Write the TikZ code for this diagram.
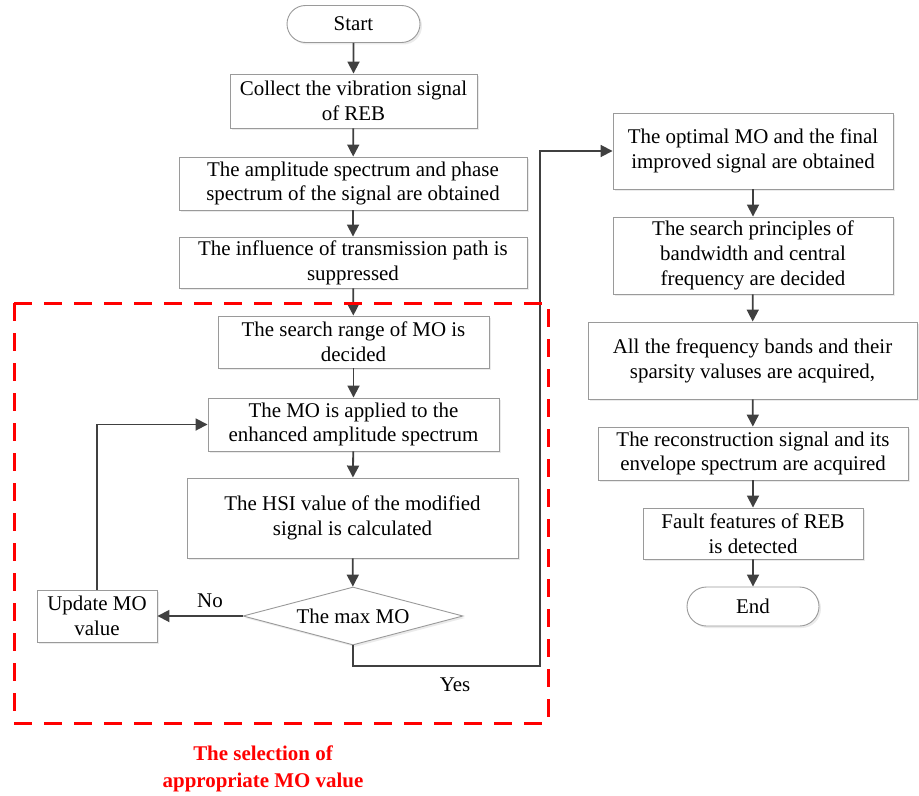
\documentclass[tikz,border=0pt]{standalone}
\usepackage{fontspec}
\setmainfont{Liberation Serif}
\usetikzlibrary{arrows.meta,shapes.misc,shapes.geometric,shadows}
\definecolor{arrgray}{HTML}{404040}
\definecolor{boxgray}{HTML}{9A9A9A}
\tikzset{
  procbox/.style={draw=boxgray, line width=0.9bp, fill=white, inner sep=0pt, align=center,
    font=\fontsize{21}{25}\selectfont,
    drop shadow={shadow xshift=2bp, shadow yshift=-2bp, fill=black!8, opacity=1}},
  termbox/.style={procbox, rounded rectangle},
  decbox/.style={procbox, diamond, aspect=3.8},
  arr/.style={draw=arrgray, line width=1.8bp, -{Triangle[length=12bp,width=12bp]}},
  lbl/.style={font=\fontsize{21}{25}\selectfont, inner sep=0pt},
  redframe/.style={draw=red, line width=3bp, dash pattern=on 18bp off 12bp}
}
\begin{document}
\begin{tikzpicture}[x=1bp,y=-1bp]
\useasboundingbox (0,0) rectangle (919,796);
% left column
\node[termbox, minimum width=133bp, minimum height=37bp] (start) at (353.5,24) {Start};
\node[procbox, minimum width=247bp, minimum height=54bp] (collect) at (353.5,101) {Collect the vibration signal\\of REB};
\node[procbox, minimum width=348bp, minimum height=53bp] (amp) at (353,183.5) {The amplitude spectrum and phase\\spectrum of the signal are obtained};
\node[procbox, minimum width=348bp, minimum height=51bp] (infl) at (353,262.5) {The influence of transmission path is\\suppressed};
\node[procbox, minimum width=271bp, minimum height=52bp] (range) at (353.5,342) {The search range of MO is\\decided};
\node[procbox, minimum width=291bp, minimum height=53bp] (apply) at (353.5,424.5) {The MO is applied to the\\enhanced amplitude spectrum};
\node[procbox, minimum width=331bp, minimum height=80bp] (hsi) at (352.5,518) {The HSI value of the modified\\signal is calculated};
\node[decbox, minimum width=220bp, minimum height=58bp] (maxmo) at (353,616) {The max MO};
\node[procbox, minimum width=120bp, minimum height=52bp] (update) at (97,616) {Update MO\\value};
% right column
\node[procbox, minimum width=280bp, minimum height=76bp] (optimal) at (753,151) {The optimal MO and the final\\improved signal are obtained};
\node[procbox, minimum width=280bp, minimum height=77bp] (princ) at (753,255.5) {The search principles of\\bandwidth and central\\frequency are decided};
\node[procbox, minimum width=329bp, minimum height=77bp] (allfreq) at (752.5,360.5) {All the frequency bands and their\\sparsity valuses are acquired,};
\node[procbox, minimum width=310bp, minimum height=53bp] (recon) at (753,453.5) {The reconstruction signal and its\\envelope spectrum are acquired};
\node[procbox, minimum width=220bp, minimum height=51bp] (fault) at (753,533.5) {Fault features of REB\\is detected};
\node[termbox, minimum width=132bp, minimum height=39bp] (end) at (753,606.5) {End};
% connectors
\draw[arr] (start) -- (collect);
\draw[arr] (collect) -- (amp);
\draw[arr] (amp) -- (infl);
\draw[arr] (infl) -- (range);
\draw[arr] (range) -- (apply);
\draw[arr] (apply) -- (hsi);
\draw[arr] (hsi) -- (maxmo);
\draw[arr] (maxmo.west) -- (maxmo.west -| update.east);
\draw[arr] (update.north) |- (apply.west);
\coordinate (yesturn) at (540,666);
\draw[arr] (maxmo.south) |- (yesturn) |- (optimal.west);
\draw[arr] (optimal) -- (princ);
\draw[arr] (princ) -- (allfreq);
\draw[arr] (allfreq) -- (recon);
\draw[arr] (recon) -- (fault);
\draw[arr] (fault) -- (end);
\node[lbl] (nolbl) at (210,601) {No};
\node[lbl] (yeslbl) at (455,685) {Yes};
% red frame
\draw[redframe] (14,303) rectangle (548,723);
\node[lbl, text=red, font=\fontsize{21}{27}\bfseries\selectfont, align=center] (caption) at (263,768.5) {The selection of\\appropriate MO value};
\end{tikzpicture}
\end{document}
